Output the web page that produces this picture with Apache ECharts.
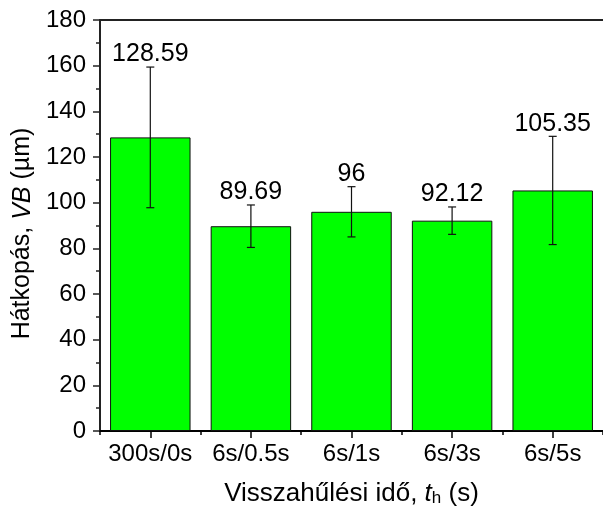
<!DOCTYPE html>
<html>
<head>
<meta charset="utf-8">
<script src="https://cdn.jsdelivr.net/npm/echarts@6/dist/echarts.min.js"></script>
<style>html,body{margin:0;padding:0;background:#fff}#c{width:603px;height:516px}</style>
</head>
<body>
<div id="c"></div>
<script>
var categories = ['300s/0s', '6s/0.5s', '6s/1s', '6s/3s', '6s/5s'];
var values = [128.59, 89.69, 96, 92.12, 105.35];
var errors = [30.8, 9.3, 11.0, 6.0, 23.7];
var yTicks = [0, 20, 40, 60, 80, 100, 120, 140, 160, 180];

var FONT = '"Liberation Sans", Arial, sans-serif';
var chart = echarts.init(document.getElementById('c'), null, {renderer: 'canvas'});

var errData = values.map(function (v, i) { return [i, v, errors[i]]; });

chart.setOption({
  animation: false,
  backgroundColor: '#fff',
  textStyle: {fontFamily: FONT},
  grid: {left: 100, top: 20, bottom: 85, width: 511.5, containLabel: false},
  xAxis: [{
    type: 'category', data: categories, position: 'bottom',
    axisLine: {show: true, lineStyle: {color: '#000', width: 2}},
    axisTick: {show: true, alignWithLabel: true, length: 7, lineStyle: {color: '#000', width: 1.5}},
    axisLabel: {color: '#000', fontSize: 24, fontFamily: FONT, margin: 11, interval: 0},
    name: 'Visszahűlési idő, {i|t}{sub|h} (s)',
    nameLocation: 'middle', nameGap: 50,
    nameTextStyle: {
      color: '#000', fontSize: 26, fontFamily: FONT,
      rich: {
        i: {fontStyle: 'italic', fontSize: 26, fontFamily: FONT, color: '#000'},
        sub: {fontSize: 17, fontFamily: FONT, color: '#000', verticalAlign: 'bottom', padding: [9, 0, 0, 0]}
      }
    }
  }, {
    type: 'category', data: categories, position: 'bottom',
    axisLine: {show: false},
    axisTick: {show: true, alignWithLabel: false, length: 4, lineStyle: {color: '#000', width: 1.5}},
    axisLabel: {show: false}
  }, {
    type: 'category', data: categories, position: 'top',
    axisLine: {show: true, lineStyle: {color: '#222', width: 2}},
    axisTick: {show: false}, axisLabel: {show: false}
  }],
  yAxis: [{
    type: 'value', min: 0, max: 180, interval: 20,
    axisLine: {show: true, lineStyle: {color: '#222', width: 2}},
    axisTick: {show: true, length: 7, lineStyle: {color: '#222', width: 1.5}},
    minorTick: {show: true, splitNumber: 2, length: 4, lineStyle: {color: '#222', width: 1.5}},
    splitLine: {show: false},
    axisLabel: {color: '#000', fontSize: 24, fontFamily: FONT, margin: 14,
      formatter: function (v) { return yTicks.indexOf(v) >= 0 ? String(v) : ''; }},
    name: 'Hátkopás, {i|VB} (µm)',
    nameLocation: 'middle', nameGap: 61,
    nameTextStyle: {
      color: '#000', fontSize: 25, fontFamily: FONT, padding: [0, 16, 0, 0],
      rich: {i: {fontStyle: 'italic', fontSize: 25, fontFamily: FONT, color: '#000'}}
    }
  }],
  series: [{
    type: 'bar', data: values, barCategoryGap: '20%',
    itemStyle: {color: '#00FF00', borderColor: '#111', borderWidth: 1}
  }, {
    type: 'custom', data: errData, z: 10,
    renderItem: function (params, api) {
      var i = api.value(0), v = api.value(1), e = api.value(2);
      var top = api.coord([i, v + e]);
      var bot = api.coord([i, v - e]);
      var hw = 4;
      var style = {stroke: '#111', lineWidth: 1.2};
      return {
        type: 'group',
        children: [
          {type: 'line', shape: {x1: top[0], y1: top[1], x2: bot[0], y2: bot[1]}, style: style},
          {type: 'line', shape: {x1: top[0] - hw, y1: top[1], x2: top[0] + hw, y2: top[1]}, style: style},
          {type: 'line', shape: {x1: bot[0] - hw, y1: bot[1], x2: bot[0] + hw, y2: bot[1]}, style: style},
          {type: 'text', x: top[0], y: top[1] - 0,
            style: {text: String(values[params.dataIndex]), fill: '#000', font: '25px ' + FONT,
              textAlign: 'center', textVerticalAlign: 'bottom'}}
        ]
      };
    }
  }]
});
</script>
</body>
</html>
